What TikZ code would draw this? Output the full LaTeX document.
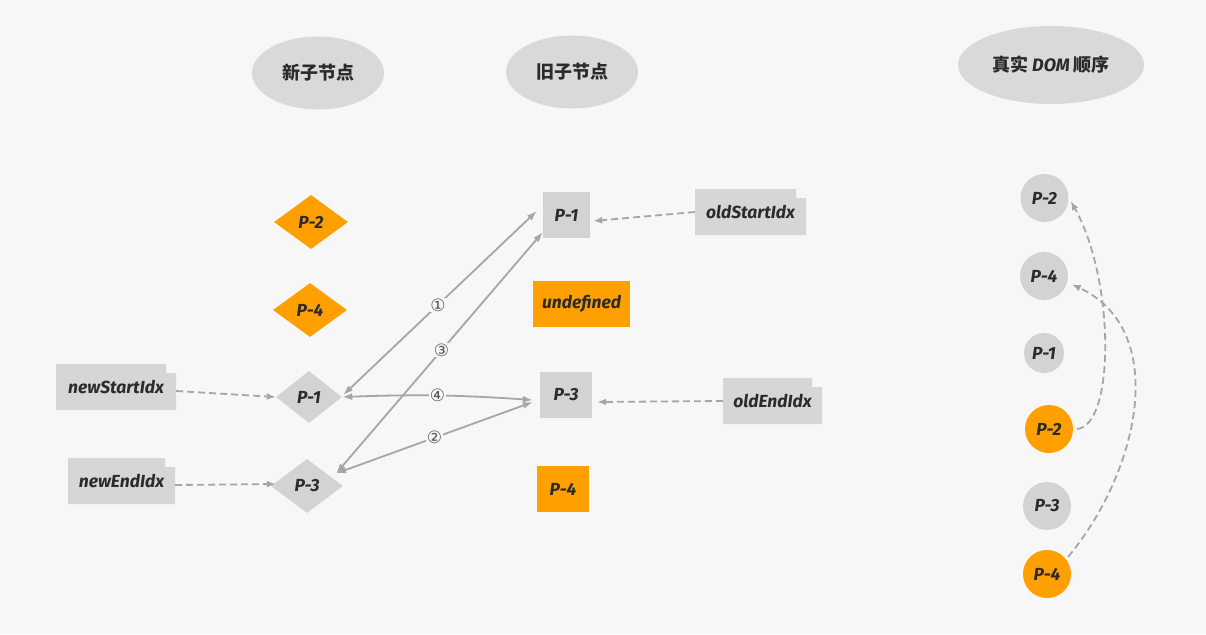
\documentclass[tikz,border=0pt]{standalone}
\usepackage{fontspec}
\setmainfont{Fira Sans}
\newfontfamily\cjk{Noto Sans CJK SC}
\newfontfamily\dv{DejaVu Sans}
\usetikzlibrary{shapes.geometric,arrows.meta}
\definecolor{bg}{HTML}{F7F7F7}
\definecolor{gbox}{HTML}{D6D6D6}
\definecolor{gnode}{HTML}{D3D3D3}
\definecolor{org}{HTML}{FFA000}
\definecolor{ell}{HTML}{D9D9D9}
\definecolor{ln}{HTML}{A6A6A6}
\definecolor{txt}{HTML}{2B2B2B}
\definecolor{numc}{HTML}{555555}
\tikzset{
  lbl/.style={font=\fontsize{17.5}{20}\selectfont\bfseries\itshape, text=txt},
  ellnode/.style={ellipse, fill=ell, inner sep=0, text=txt, font=\cjk\bfseries\fontsize{18}{20}\selectfont},
  dia/.style={diamond, inner sep=0, lbl},
  sq/.style={rectangle, inner sep=0, lbl},
  circ/.style={circle, inner sep=0, lbl},
  tabbox/.style={rectangle, inner sep=0, lbl, path picture={\fill[gbox] (path picture bounding box.north west) -- ([xshift=-10pt]path picture bounding box.north east) -- ([xshift=-10pt,yshift=-9pt]path picture bounding box.north east) -- ([yshift=-9pt]path picture bounding box.north east) |- (path picture bounding box.south west) -- cycle;}},
  dasharr/.style={draw=ln, line width=1.8pt, dash pattern=on 7pt off 4pt, -{Latex[length=9pt,width=7pt]}},
  duo/.style={draw=ln, line width=1.8pt, {Latex[length=10pt,width=7pt]}-{Latex[length=10pt,width=7pt]}},
  numlab/.style={fill=bg, inner sep=0.6pt, font=\dv\fontsize{17}{17}\selectfont, text=numc}
}
\begin{document}
\begin{tikzpicture}[x=1pt,y=-1pt]
\fill[bg] (0,0) rectangle (1206,634);
\useasboundingbox (0,0) rectangle (1206,634);

% headers
\node[ellnode, minimum width=132pt, minimum height=73pt] (h1) at (318,73) {新子节点};
\node[ellnode, minimum width=132pt, minimum height=73pt] (h2) at (572,72) {旧子节点};
\node[ellnode, minimum width=186pt, minimum height=78pt] (h3) at (1051,65) {真实 {\rmfamily\bfseries\itshape DOM} 顺序};

% new children
\node[dia, fill=org, minimum width=74pt, minimum height=54pt] (n2) at (311,222) {P-2};
\node[dia, fill=org, minimum width=74pt, minimum height=54pt] (n4) at (310,310) {P-4};
\node[dia, fill=gnode, minimum width=66pt, minimum height=52pt] (np1) at (309,397) {P-1};
\node[dia, fill=gnode, minimum width=72pt, minimum height=54pt] (np3) at (307,486) {P-3};

% old children
\node[sq, fill=gnode, minimum width=47pt, minimum height=46pt] (op1) at (566.5,215) {P-1};
\node[sq, fill=org, minimum width=97pt, minimum height=46pt] (und) at (581.5,304) {undefined};
\node[sq, fill=gnode, minimum width=52pt, minimum height=46pt] (op3) at (566,395) {P-3};
\node[sq, fill=org, minimum width=52pt, minimum height=46pt] (op4) at (563,489) {P-4};

% index boxes
\node[tabbox, minimum width=120pt, minimum height=46pt] (ns) at (116,387) {newStartIdx};
\node[tabbox, minimum width=107pt, minimum height=46pt] (ne) at (121.5,481) {newEndIdx};
\node[tabbox, minimum width=111pt, minimum height=46pt] (os) at (750.5,212) {oldStartIdx};
\node[tabbox, minimum width=99pt, minimum height=46pt] (oe) at (772.5,401) {oldEndIdx};

% real DOM
\node[circ, fill=gnode, minimum size=48pt] (rc2) at (1044.5,198) {P-2};
\node[circ, fill=gnode, minimum size=48pt] (rc4) at (1044,276) {P-4};
\node[circ, fill=gnode, minimum size=40pt] (rc1) at (1044,353) {P-1};
\node[circ, fill=org, minimum size=48pt] (ro2) at (1049,429) {P-2};
\node[circ, fill=gnode, minimum size=48pt] (rc3) at (1047,506) {P-3};
\node[circ, fill=org, minimum size=48pt] (ro4) at (1047,574) {P-4};

% index pointers
\draw[dasharr] ([yshift=-4pt]ns.east) -- (np1.west);
\draw[dasharr] ([yshift=-4pt]ne.east) -- ([xshift=5pt,yshift=2pt]np3.west);
\draw[dasharr] (os.west) -- ([xshift=3pt,yshift=-6pt]op1.east);
\draw[dasharr] (oe.west) -- ([xshift=5pt,yshift=-7pt]op3.east);

% comparisons
\draw[duo] ([xshift=1pt,yshift=2pt]np1.east) -- node[numlab, pos=0.49] {①} ([xshift=-6pt,yshift=4pt]op1.west);
\draw[duo] ([xshift=11pt,yshift=-1pt]np3.north east) -- node[numlab, pos=0.5] {②} ([xshift=-7pt,yshift=-7pt]op3.west);
\draw[duo] ([xshift=11pt,yshift=-1pt]np3.north east) -- node[numlab, pos=0.51] {③} ([yshift=6pt]op1.south west);
\draw[duo] (np1.east) to[bend left=3] node[numlab, pos=0.5] {④} ([xshift=-7pt,yshift=-5pt]op3.west);

% moves in real DOM
\draw[dasharr] ([xshift=4pt]ro2.east) .. controls (1115,425) and (1115,280) .. ([xshift=2pt,yshift=-3pt]rc2.east);
\draw[dasharr] ([xshift=4pt]ro4.north east) .. controls (1140,470) and (1170,330) .. ([xshift=5pt]rc4.-20);
\end{tikzpicture}
\end{document}
